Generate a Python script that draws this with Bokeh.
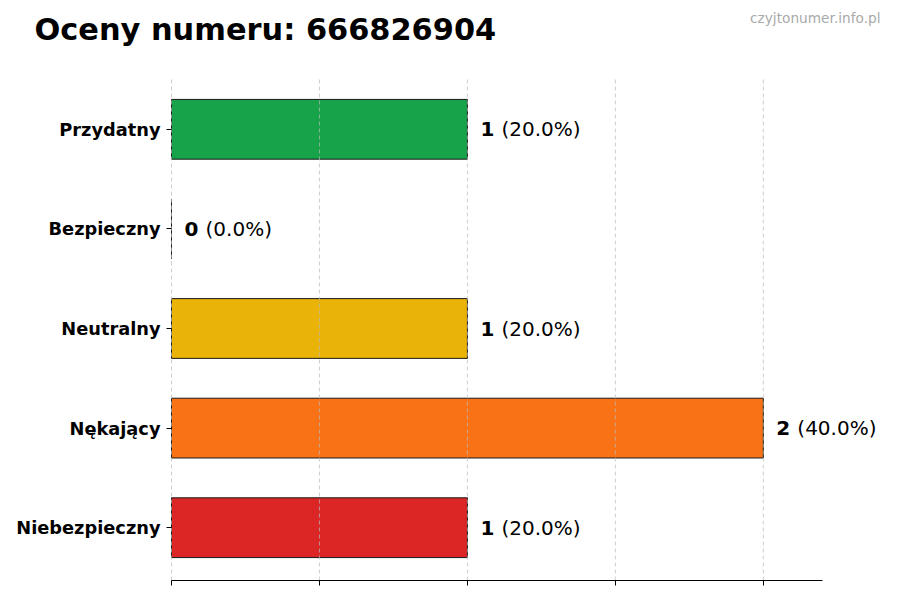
from bokeh.plotting import figure
from bokeh.models import Range1d, FixedTicker, ColumnDataSource, LabelSet, Label
from bokeh.core.properties import value
from bokeh.embed import file_html
from bokeh.resources import INLINE

title_text = "Oceny numeru: 666826904"
watermark = "czyjtonumer.info.pl"
categories = ["Niebezpieczny", "Nękający", "Neutralny", "Bezpieczny", "Przydatny"]
counts = [1, 2, 1, 0, 1]
colors = ["#dc2626", "#f97316", "#eab308", "#3b82f6", "#16a34a"]
x_ticks = [0, 0.5, 1, 1.5, 2]

# layout (pixels on the canvas)
CANVAS_W, FRAME_H = 895, 580
AX_LEFT, AX_RIGHT, AX_TOP = 171, 822, 76

total = sum(counts)
ypos = list(range(len(categories)))
xmax = max(counts) * 1.1
pad = xmax * 0.02
ylo, yhi = -0.53, len(categories) - 1 + 0.53

# map the axes box onto the full-size frame
xscale = (AX_RIGHT - AX_LEFT) / xmax
x_start = -AX_LEFT / xscale
x_end = (CANVAS_W - AX_LEFT) / xscale
yscale = (FRAME_H - AX_TOP) / (yhi - ylo)
y_end = yhi + AX_TOP / yscale

num_txt = [str(c) for c in counts]
pct_txt = ["(%.1f%%)" % (100.0 * c / total) for c in counts]

src = ColumnDataSource(dict(
    y=ypos, count=counts, color=colors,
    lx=[c + pad for c in counts], num=num_txt, pct=pct_txt,
))
grid_src = ColumnDataSource(dict(
    x=x_ticks, y0=[ylo] * len(x_ticks), y1=[yhi] * len(x_ticks),
))

FONT = "DejaVu Sans"

p = figure(
    frame_width=CANVAS_W, frame_height=FRAME_H,
    x_range=Range1d(x_start, x_end), y_range=Range1d(ylo, y_end),
    output_backend="svg", toolbar_location=None,
    min_border_left=0, min_border_top=0, min_border_right=0, min_border_bottom=10,
)
p.outline_line_color = None
p.background_fill_color = "white"
p.border_fill_color = "white"
p.xgrid.visible = False
p.ygrid.visible = False

p.hbar(y="y", left=0, right="count", height=0.6, fill_color="color",
       line_color="#1a1a1a", line_width=1, source=src)

# dashed vertical grid lines over the bars
p.segment(x0="x", x1="x", y0="y0", y1="y1", source=grid_src,
          line_color="#bbbbbb", line_alpha=0.7, line_dash="4 3", line_width=1)

# x axis (no labels), limited to the data extent
p.xaxis.ticker = FixedTicker(ticks=x_ticks)
p.xaxis.bounds = (0, xmax)
p.xaxis.major_label_overrides = {t: "" for t in x_ticks}
p.xaxis.major_label_standoff = 0
p.xaxis.minor_tick_line_color = None
p.xaxis.major_tick_in = 0
p.xaxis.major_tick_out = 5
p.xaxis.axis_line_color = "black"
p.xaxis.major_tick_line_color = "black"

# y axis fixed at x = 0
p.yaxis.fixed_location = 0
p.yaxis.ticker = FixedTicker(ticks=ypos)
p.yaxis.major_label_overrides = {i: c for i, c in zip(ypos, categories)}
p.yaxis.axis_line_color = None
p.yaxis.minor_tick_line_color = None
p.yaxis.major_tick_in = 0
p.yaxis.major_tick_out = 5
p.yaxis.major_tick_line_color = "black"
p.yaxis.major_label_standoff = 6
p.yaxis.major_label_text_font = FONT
p.yaxis.major_label_text_font_style = "bold"
p.yaxis.major_label_text_font_size = "17.8px"
p.yaxis.major_label_text_color = "black"

# value labels
p.add_layout(LabelSet(x="lx", y="y", text="num", source=src,
                      text_font=value(FONT), text_font_style="bold",
                      text_font_size="20px", text_color="black",
                      text_baseline="middle", text_align="left"))
p.add_layout(LabelSet(x="lx", y="y", text="pct", source=src, x_offset=21,
                      text_font=value(FONT), text_font_style="normal",
                      text_font_size="20px", text_color="black",
                      text_baseline="middle", text_align="left"))

# title & watermark (screen units: from frame left / frame bottom)
p.add_layout(Label(x=34, y=FRAME_H - 29, x_units="screen", y_units="screen",
                   text=title_text, text_font=FONT, text_font_style="bold",
                   text_font_size="30.4px", text_color="black",
                   text_baseline="alphabetic", text_align="left"))
p.add_layout(Label(x=880, y=FRAME_H - 17, x_units="screen", y_units="screen",
                   text=watermark, text_font=FONT, text_font_size="13.7px",
                   text_color="#aaaaaa", text_baseline="alphabetic",
                   text_align="right"))

open("out.html", "w").write(file_html(p, INLINE))
